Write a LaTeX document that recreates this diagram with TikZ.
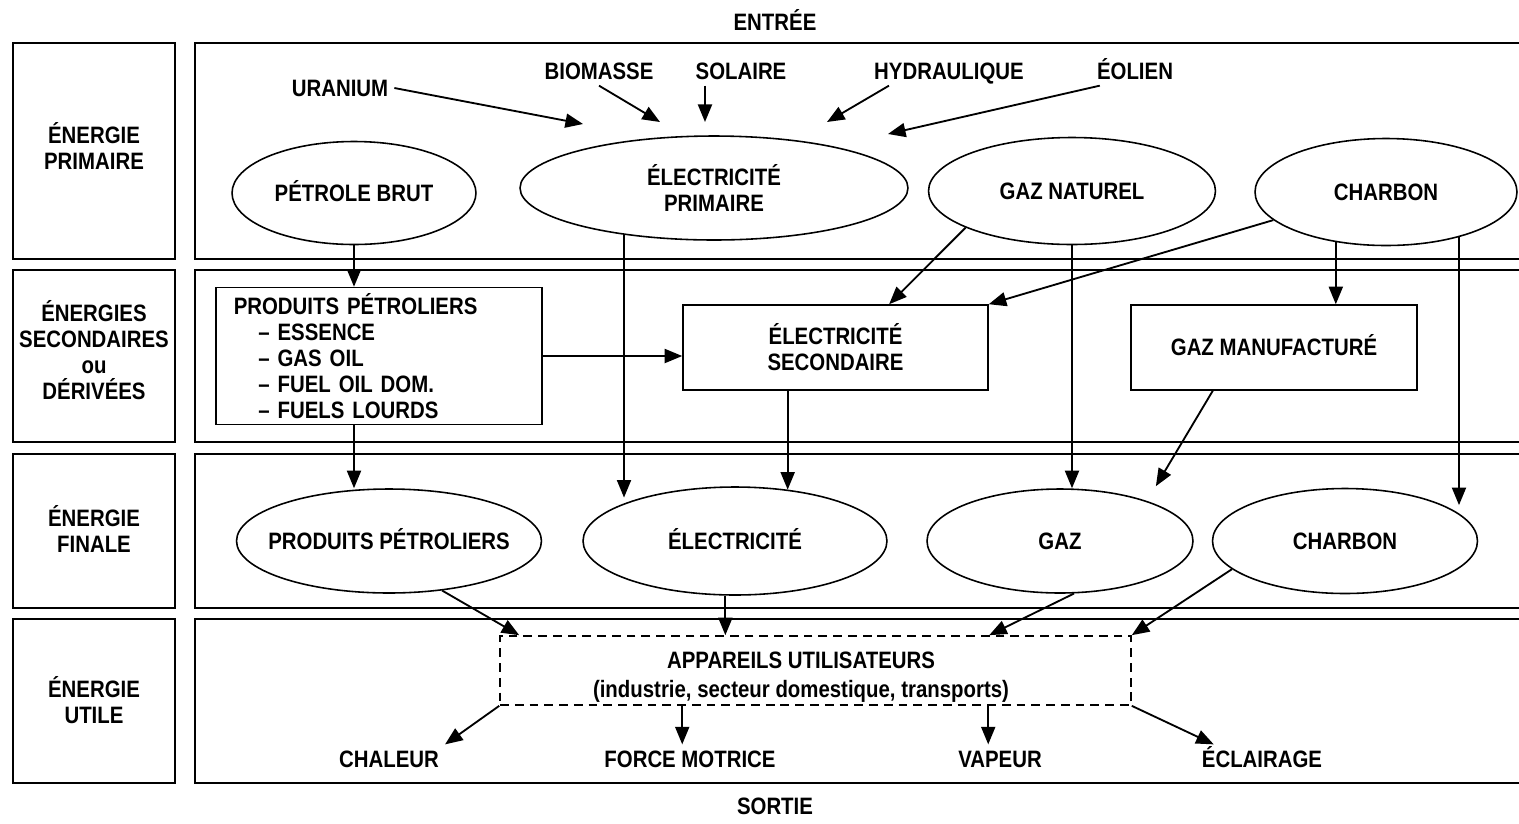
\documentclass[tikz,border=0pt]{standalone}
\usepackage{fontspec}
\newfontfamily\condsans{Liberation Sans}[FakeStretch=0.86]
\usetikzlibrary{arrows.meta,calc,shapes.geometric}
\tikzset{
    frame/.style={line width=1.1pt},
    rowlabel/.style={align=center},
    oneline/.style={text height=9.6pt,text depth=0pt},
    energyell/.style={draw,ellipse,line width=0.9pt,inner sep=0pt,align=center},
    energybox/.style={draw,rectangle,line width=0.9pt,inner sep=0pt,align=center},
    usebox/.style={draw,rectangle,line width=0.95pt,dash pattern=on 5pt off 3.4pt,inner sep=0pt},
    flow/.style={->,line width=1.05pt}
}

\begin{document}
\begin{tikzpicture}[x=0.02cm,y=-0.02cm,>={Triangle[length=10pt,width=8pt]},
    every node/.style={font=\condsans\bfseries\fontsize{13.5}{14.8}\selectfont}]
    \useasboundingbox (0,0) rectangle (1519,823);
    % Rows
    \draw[frame] (13,43) rectangle (175,259);
    \draw[frame] (1519,43) -- (195,43) -- (195,259) -- (1519,259);
    \draw[frame] (13,270) rectangle (175,442);
    \draw[frame] (1519,270) -- (195,270) -- (195,442) -- (1519,442);
    \draw[frame] (13,454) rectangle (175,608);
    \draw[frame] (1519,454) -- (195,454) -- (195,608) -- (1519,608);
    \draw[frame] (13,619) rectangle (175,783);
    \draw[frame] (1519,619) -- (195,619) -- (195,783) -- (1519,783);
    % Row labels
    \node[oneline] (entree) at (775,22) {ENTRÉE};
    \node[oneline] (sortie) at (775,806) {SORTIE};
    \node[rowlabel] (lprim) at (94,146) {ÉNERGIE\\PRIMAIRE};
    \node[rowlabel] (lsec) at (94,350) {ÉNERGIES\\SECONDAIRES\\ou\\DÉRIVÉES};
    \node[rowlabel] (lfin) at (94,529) {ÉNERGIE\\FINALE};
    \node[rowlabel] (lutil) at (94,700) {ÉNERGIE\\UTILE};
    % Sources
    \node[oneline] (uranium) at (340,88) {URANIUM};
    \node[oneline] (biomasse) at (599,71) {BIOMASSE};
    \node[oneline] (solaire) at (741,71) {SOLAIRE};
    \node[oneline] (hydrau) at (949,71) {HYDRAULIQUE};
    \node[oneline] (eolien) at (1135,71) {ÉOLIEN};
    \coordinate (uranium-in) at (583,124);
    \coordinate (biomasse-in) at (660,122);
    \coordinate (solaire-in) at (705,122);
    \coordinate (hydrau-in) at (827,122);
    \coordinate (eolien-in) at (888,134);
    % Primary energy
    \node[energyell,oneline,minimum width=4.88cm,minimum height=2.06cm] (petbrut) at (354,193) {PÉTROLE BRUT};
    \node[energyell,minimum width=7.76cm,minimum height=2.08cm] (elecprim) at (714,188) {ÉLECTRICITÉ\\PRIMAIRE};
    \node[energyell,oneline,minimum width=5.74cm,minimum height=2.14cm] (gaznat) at (1072,191) {GAZ NATUREL};
    \node[energyell,oneline,minimum width=5.24cm,minimum height=2.14cm] (charbprim) at (1386,192) {CHARBON};
    % Secondary energy
    \node[energybox,align=left,text width=5.81cm,inner xsep=10pt,minimum height=2.74cm] (prodsec) at (379,356)
        {PRODUITS PÉTROLIERS\\\hspace*{14pt}– ESSENCE\\\hspace*{14pt}– GAS OIL\\\hspace*{14pt}– FUEL OIL DOM.\\\hspace*{14pt}– FUELS LOURDS};
    \node[energybox,minimum width=6.10cm,minimum height=1.70cm] (elecsec) at (835.5,347.5) {ÉLECTRICITÉ\\SECONDAIRE};
    \node[energybox,oneline,minimum width=5.72cm,minimum height=1.70cm] (gazmanu) at (1274,347.5) {GAZ MANUFACTURÉ};
    % Final energy
    \node[energyell,oneline,minimum width=6.10cm,minimum height=2.08cm] (petfin) at (389,541) {\makebox[0pt]{PRODUITS PÉTROLIERS}};
    \node[energyell,oneline,minimum width=6.08cm,minimum height=2.16cm] (elecfin) at (735,541) {ÉLECTRICITÉ};
    \node[energyell,oneline,minimum width=5.32cm,minimum height=2.08cm] (gazfin) at (1060,541) {GAZ};
    \node[energyell,oneline,minimum width=5.30cm,minimum height=2.10cm] (charbfin) at (1345,541) {CHARBON};
    % Useful energy
    \node[usebox,minimum width=12.62cm,minimum height=1.38cm] (appareils) at (815.5,670.5) {};
    \node[align=center] (appareils-txt) at (801,677) {APPAREILS UTILISATEURS\\[2pt](industrie, secteur domestique, transports)};
    \node[oneline] (chaleur) at (389,759) {CHALEUR};
    \node[oneline] (force) at (690,759) {FORCE MOTRICE};
    \node[oneline] (vapeur) at (1000,759) {VAPEUR};
    \node[oneline] (eclairage) at (1262,759) {ÉCLAIRAGE};
    % Inputs to primary electricity
    \draw[flow] (uranium.east) -- (uranium-in);
    \draw[flow] (biomasse.south) -- (biomasse-in);
    \draw[flow] (solaire-in |- solaire.south) -- (solaire-in);
    \draw[flow] ($(hydrau.south west)+(21,0)$) -- (hydrau-in);
    \draw[flow] ($(eolien.south west)+(9,0)$) -- (eolien-in);
    % Primary to secondary
    \draw[flow] (petbrut.south) -- (petbrut.south |- prodsec.north);
    \draw[flow] (prodsec.east) -- (prodsec.east -| elecsec.west);
    \draw[flow] (gaznat.199) -- ($(elecsec.north west)!0.675!(elecsec.north east)$);
    \draw[flow] (charbprim.194) -- (elecsec.north east);
    \draw[flow] (charbprim.225) -- (charbprim.225 |- gazmanu.north);
    % To final
    \draw[flow] (624,0 |- elecprim.207) -- (624,0 |- elecfin.155);
    \draw[flow] (gaznat.south) -- (gaznat.south |- gazfin.north);
    \draw[flow] (1459,0 |- charbprim.328) -- (1459,0 |- charbfin.20);
    \draw[flow] (petbrut.south |- prodsec.south) -- (petbrut.south |- petfin.north);
    \coordinate (elecsec-out) at ($(elecsec.south west)!0.344!(elecsec.south east)$);
    \draw[flow] (elecsec-out) -- (elecsec-out |- elecfin.44);
    \draw[flow] ($(gazmanu.south west)!0.287!(gazmanu.south east)$) -- ($(gazfin.21)+(0,-18)$);
    % Final to appliances
    \draw[flow] (petfin.317) -- ($(appareils.north west)+(20,0)$);
    \draw[flow] (elecfin.260) -- (elecfin.260 |- appareils.north);
    \draw[flow] (gazfin.285) -- ($(appareils.north west)+(490,0)$);
    \draw[flow] (charbfin.194) -- (appareils.north east);
    % Outputs
    \draw[flow] (appareils.south west) -- (chaleur.north east);
    \coordinate (force-out) at ($(appareils.south west)+(183,0)$);
    \draw[flow] (force-out) -- (force-out |- force.north);
    \coordinate (vapeur-out) at ($(appareils.south west)+(489,0)$);
    \draw[flow] (vapeur-out) -- (vapeur-out |- vapeur.north);
    \draw[flow] (appareils.south east) -- ($(eclairage.north west)+(18,0)$);
\end{tikzpicture}
\end{document}
